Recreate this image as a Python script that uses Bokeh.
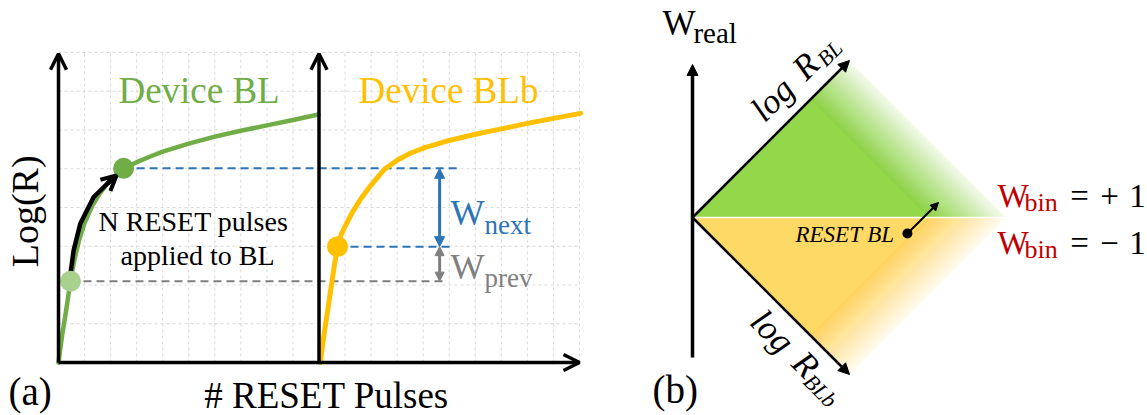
import numpy as np
from bokeh.plotting import figure
from bokeh.models import Range1d, Arrow, OpenHead, NormalHead
from bokeh.core.properties import value
from bokeh.embed import file_html
from bokeh.resources import INLINE

# ---------------- panel (a) data: x = # RESET pulses (grid units), y = log(R) ----------------
n_pulse_cols = 20
n_logr_rows = 8
bl_pulses = [0.0, 0.08, 0.15, 0.25, 0.35, 0.46, 0.6, 0.8, 1.0, 1.3, 1.6, 2.0, 2.5, 3.0, 3.5,
             4.0, 5.0, 6.0, 7.0, 8.0, 9.0, 9.98]
bl_logr = [0.0, 0.40, 0.75, 1.15, 1.60, 2.10, 2.62, 3.18, 3.60, 4.05, 4.38, 4.72, 5.01, 5.17, 5.31,
           5.44, 5.65, 5.83, 5.98, 6.12, 6.26, 6.40]
blb_pulses = [10.05, 10.13, 10.2, 10.3, 10.4, 10.5, 10.6, 10.71, 10.85, 11.05, 11.3, 11.6, 12.0,
              12.5, 13.0, 13.5, 14.0, 15.0, 16.0, 17.0, 18.0, 19.0, 20.04]
blb_logr = [0.0, 0.40, 0.75, 1.20, 1.65, 2.10, 2.55, 2.99, 3.30, 3.58, 3.90, 4.22, 4.58,
            4.98, 5.22, 5.40, 5.53, 5.73, 5.89, 6.03, 6.17, 6.30, 6.43]
dot_pulses = [0.46, 2.50, 10.71]
dot_logr = [2.10, 5.01, 2.99]
dot_colors = ["#A9D18E", "#70AD47", "#FFC000"]
arrow_pulses = [0.46, 0.58, 0.84, 1.34, 1.88, 2.23]
arrow_logr = [2.30, 2.89, 3.59, 4.26, 4.62, 4.83]
w_prev_level = 2.10
w_cur_level = 2.99
w_next_level = 5.01
w_arrow_pulse = 14.63

# ---------------- panel (b) data ----------------
diamond_x = [0.0, 1.0, 2.0, 1.0]
diamond_y = [0.0, 1.0, 0.0, -1.0]
fade_start, fade_end = 1.5, 2.0

GREEN = "#70AD47"
ORANGE = "#FFC000"
BLUE = "#2E75B6"
GRAY = "#7F7F7F"
RED = "#C00000"
SERIF = "Liberation Serif"

W, H = 1147, 415
# page-pixel layout of panel (a) grid and panel (b) origin
ax0, ay0, pxu, pyu = 58.0, 362.0, 26.05, 38.75
bx0, by0, bu = 692.0, 217.0, 157.0

p = figure(width=W, height=H, output_backend="svg", toolbar_location=None,
           x_range=Range1d(-ax0 / pxu, (W - ax0) / pxu),
           y_range=Range1d((ay0 - H) / pyu, ay0 / pyu),
           x_axis_type=None, y_axis_type=None, min_border=0)
p.extra_x_ranges = {"bx": Range1d(-bx0 / bu, (W - bx0) / bu)}
p.extra_y_ranges = {"by": Range1d((by0 - H) / bu, by0 / bu)}
p.outline_line_color = None
p.background_fill_color = "white"
p.border_fill_color = "white"
B = dict(x_range_name="bx", y_range_name="by")


def at(x, y, s, size, color="black", style="normal", align="left", angle=0.0, b=False, fix=True):
    kw = B if b else {}
    if fix:
        sh = 3 + 0.2 * size  # px, move along text "up" direction
        sx, sy = (bu, bu) if b else (pxu, pyu)
        x = x - np.sin(angle) * sh / sx
        y = y + np.cos(angle) * sh / sy
    p.text(x=[x], y=[y], text=[s], text_font=value(SERIF), text_font_size=f"{size}px",
           text_font_style=style, text_color=color, text_align=align,
           text_baseline="alphabetic", angle=angle, **kw)


# ---------------- panel (a) ----------------
cols = np.arange(n_pulse_cols + 1)
rows = np.arange(n_logr_rows + 1)
p.segment(x0=cols, y0=0, x1=cols, y1=n_logr_rows, line_color="#D9D9D9", line_width=1, line_dash="3 3")
p.segment(x0=0, y0=rows, x1=n_pulse_cols, y1=rows, line_color="#D9D9D9", line_width=1, line_dash="3 3")

p.line([dot_pulses[0], 14.93], [w_prev_level, w_prev_level], line_color=GRAY, line_width=2, line_dash="8 5")
p.line([dot_pulses[1], 15.43], [w_next_level, w_next_level], line_color=BLUE, line_width=2, line_dash="8 5")
p.line([dot_pulses[2], 15.12], [w_cur_level, w_cur_level], line_color=BLUE, line_width=2, line_dash="8 5")

p.line(bl_pulses, bl_logr, line_color=GREEN, line_width=4.5, line_cap="round", line_join="round")
p.line(blb_pulses, blb_logr, line_color=ORANGE, line_width=5, line_cap="round", line_join="round")

p.line(arrow_pulses, arrow_logr, line_color="black", line_width=4.5, line_cap="round", line_join="round")
p.add_layout(Arrow(x_start=arrow_pulses[-2], y_start=arrow_logr[-2], x_end=arrow_pulses[-1], y_end=arrow_logr[-1],
                   line_width=4.5, line_color="black",
                   end=OpenHead(size=15, line_width=4, line_color="black")))

p.scatter(dot_pulses, dot_logr, size=21, fill_color=dot_colors, line_color=None)

# axes arrows
for (xs, ys, xe, ye) in [(0, 0, 0, 7.97), (0, 0, n_pulse_cols, 0), (10, 0, 10, 7.97)]:
    p.add_layout(Arrow(x_start=xs, y_start=ys, x_end=xe, y_end=ye, line_width=3.5, line_color="black",
                       end=OpenHead(size=16, line_width=3.5, line_color="black")))

# W_next / W_prev double arrows
p.add_layout(Arrow(x_start=w_arrow_pulse, y_start=w_cur_level, x_end=w_arrow_pulse, y_end=w_next_level,
                   line_width=3, line_color=BLUE,
                   start=NormalHead(size=10, fill_color=BLUE, line_color=BLUE),
                   end=NormalHead(size=10, fill_color=BLUE, line_color=BLUE)))
p.add_layout(Arrow(x_start=w_arrow_pulse, y_start=w_prev_level, x_end=w_arrow_pulse, y_end=w_cur_level,
                   line_width=3, line_color=GRAY,
                   start=NormalHead(size=9, fill_color=GRAY, line_color=GRAY),
                   end=NormalHead(size=9, fill_color=GRAY, line_color=GRAY)))

at(2.30, 6.74, "Device BL", 37, GREEN)
at(11.52, 6.74, "Device BLb", 37, ORANGE)
at(5.18, 3.41, "N RESET pulses", 28, align="center")
at(5.34, 2.55, "applied to BL", 28, align="center")
at(15.05, 3.59, "W", 36, BLUE)
at(16.35, 3.33, "next", 27, BLUE)
at(15.05, 2.19, "W", 36, GRAY)
at(16.35, 1.96, "prev", 27, GRAY)
at(-0.88, 3.90, "Log(R)", 38, align="center", angle=np.pi / 2)
at(10.29, -1.11, "# RESET Pulses", 37, align="center")
at(-1.92, -1.03, "(a)", 39)

# ---------------- panel (b) ----------------
def bands(sign, color):
    # nested polygons fading toward the outer right edge
    n = 24
    cs = fade_start + (fade_end - fade_start) * np.arange(1, n + 1) / n
    op = 1 - 0.9 * (np.arange(1, n + 1) - 0.5) / n
    P = 1 - op
    Pn = np.append(P[1:], 1.0)
    alphas = 1 - P / Pn
    xs, ys = [], []
    for c in cs:
        xs.append([0, c, c / 2])
        ys.append([0, 0, sign * c / 2])
    p.patches(xs, ys, fill_color=color, fill_alpha=list(alphas), line_color=None, **B)
    p.patch([0, fade_start, fade_start / 2], [0, 0, sign * fade_start / 2], fill_color=color,
            line_color=None, **B)

bands(1, "#92D84A")
bands(-1, "#FFD966")
p.line([diamond_x[0], diamond_x[2]], [0, 0], line_color="white", line_width=1.5, **B)

p.add_layout(Arrow(x_start=diamond_x[0], y_start=diamond_y[0], x_end=diamond_x[1], y_end=diamond_y[1],
                   line_width=2.5, line_color="black",
                   end=NormalHead(size=11, fill_color="black", line_color="black"), **B))
p.add_layout(Arrow(x_start=diamond_x[0], y_start=diamond_y[0], x_end=diamond_x[3], y_end=diamond_y[3],
                   line_width=2.5, line_color="black",
                   end=NormalHead(size=11, fill_color="black", line_color="black"), **B))
p.add_layout(Arrow(x_start=0, y_start=(by0 - 357) / bu, x_end=0, y_end=(by0 - 64) / bu,
                   line_width=3.5, line_color="black",
                   end=NormalHead(size=11, fill_color="black", line_color="black"), **B))

# RESET BL marker
p.add_layout(Arrow(x_start=1.369, y_start=-0.102, x_end=1.567, y_end=0.096, line_width=2, line_color="black",
                   end=NormalHead(size=8, fill_color="black", line_color="black"), **B))
p.scatter([1.369], [-0.102], size=10, fill_color="black", line_color=None, **B)
at(0.656, -0.159, "RESET BL", 23, style="italic", b=True)

# rotated axis labels
r2 = np.sqrt(2)
def along(s_px, n_px, up):
    if up:
        return ((s_px - n_px) / r2 / bu, (s_px + n_px) / r2 / bu)
    return ((s_px - n_px) / r2 / bu, (-s_px - n_px) / r2 / bu)

for s_px, n_px, t, sz in [(140, 27, "log", 35), (187, 27, "R", 35), (213, 19, "BL", 22)]:
    x, y = along(s_px, n_px, True)
    at(x, y, t, sz, style="italic", align="center", angle=np.pi / 4, b=True, fix=False)
for s_px, n_px, t, sz in [(137, 24, "log", 35), (184, 24, "R", 35), (213, 32, "BLb", 22)]:
    x, y = along(s_px, n_px, False)
    at(x, y, t, sz, style="italic", align="center", angle=-np.pi / 4, b=True, fix=False)

at(-0.191, 1.172, "W", 35, b=True)
at(0.006, 1.122, "real", 29, b=True)
at(-0.255, -1.166, "(b)", 39, b=True)

for yb, sign in [(0.076, "+"), (-0.223, "\u2212")]:
    at(1.943, yb, "W", 33, RED, b=True)
    at(2.115, yb - 0.031, "bin", 26, RED, b=True)
    at(2.465, yb, "=", 33, align="center", b=True)
    at(2.656, yb, sign, 33, align="center", b=True)
    at(2.834, yb, "1", 33, align="center", b=True)

open("out.html", "w").write(file_html(p, INLINE))
